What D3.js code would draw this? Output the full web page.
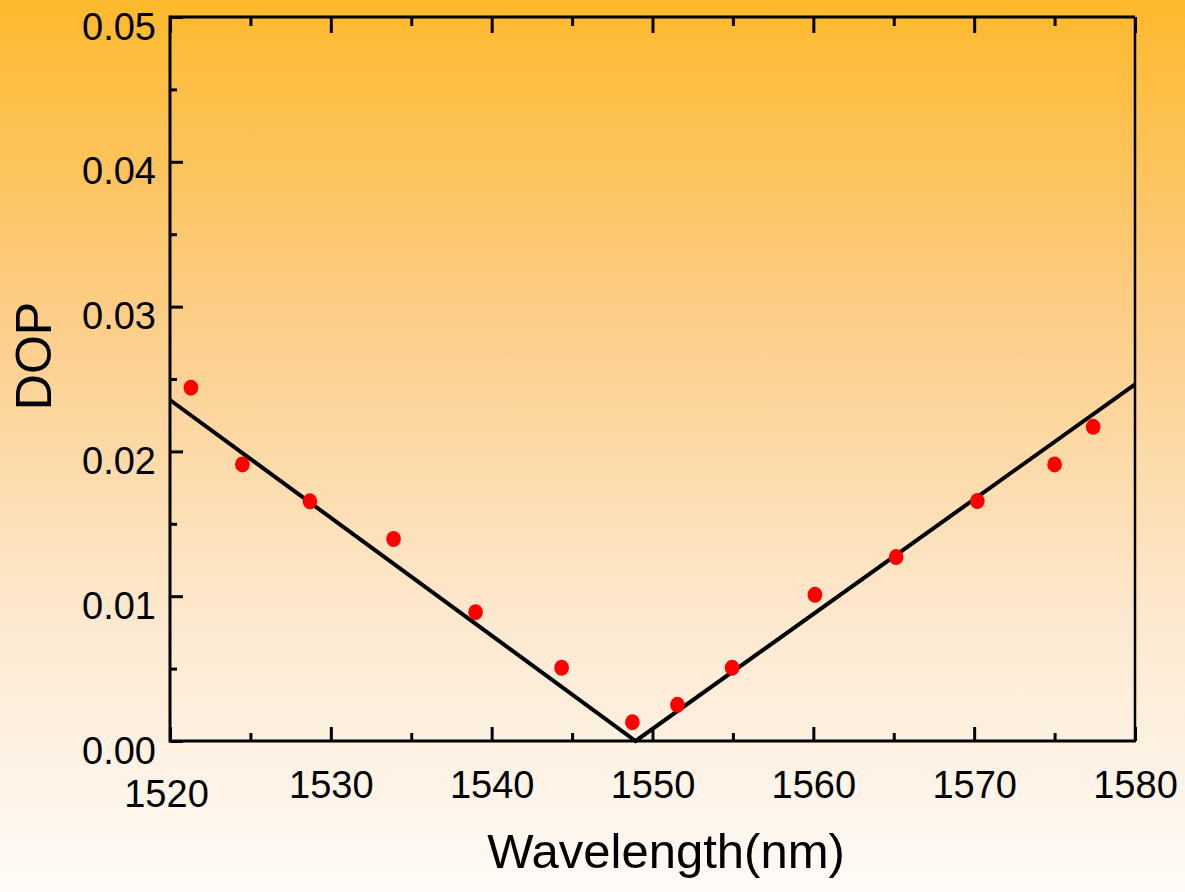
<!DOCTYPE html>
<html>
<head>
<meta charset="utf-8">
<script src="https://cdn.jsdelivr.net/npm/d3@7"></script>
<style>
  body { margin: 0; overflow: hidden; }
  text { font-family: "Liberation Sans", Arial, sans-serif; fill: #000; }
</style>
</head>
<body>
<div id="chart"></div>
<script>
// measured points
var wavelength = [1521.3, 1524.5, 1528.7, 1533.9, 1539.0, 1544.35, 1548.75, 1551.55, 1554.95, 1560.1, 1565.15, 1570.2, 1575.0, 1577.4];
var dop = [0.0244, 0.0191, 0.01655, 0.01395, 0.0089, 0.00506, 0.0013, 0.0025, 0.00506, 0.0101, 0.0127, 0.01657, 0.0191, 0.0217];

// fitted V line
var fitWavelength = [1520, 1548.95, 1580];
var fitDop = [0.02355, 0, 0.02463];

var xTicks = [1520, 1530, 1540, 1550, 1560, 1570, 1580];
var xMinor = [1525, 1535, 1545, 1555, 1565, 1575];
var yTicks = [0, 0.01, 0.02, 0.03, 0.04, 0.05];
var yMinor = [0.005, 0.015, 0.025, 0.035, 0.045];

var W = 1185, H = 892;
var margin = {top: 17, right: 50, bottom: 151, left: 170};
var width = W - margin.left - margin.right,
    height = H - margin.top - margin.bottom;

var svg = d3.select("#chart").append("svg")
  .attr("width", W)
  .attr("height", H);

// background gradient
var grad = svg.append("defs").append("linearGradient")
  .attr("id", "bg")
  .attr("x1", 0).attr("y1", 0).attr("x2", 0).attr("y2", 1);
grad.append("stop").attr("offset", "0%").attr("stop-color", "#fdb92c");
grad.append("stop").attr("offset", "35%").attr("stop-color", "#fccd86");
grad.append("stop").attr("offset", "70%").attr("stop-color", "#fde9d0");
grad.append("stop").attr("offset", "100%").attr("stop-color", "#fffbf7");
svg.append("rect").attr("width", W).attr("height", H).attr("fill", "url(#bg)");

var g = svg.append("g")
  .attr("transform", "translate(" + margin.left + "," + margin.top + ")");

var x = d3.scaleLinear().domain([1520, 1580]).range([0, width]);
var y = d3.scaleLinear().domain([0, 0.05]).range([height, 0]);

function styleAxis(sel, sw) {
  sel.select(".domain").remove();
  sel.selectAll(".tick line").attr("stroke", "#000").attr("stroke-width", sw);
}

// bottom axis, major + minor ticks pointing in
var xb = g.append("g")
  .attr("transform", "translate(0," + height + ")")
  .call(d3.axisBottom(x).tickValues(xTicks).tickSize(-14).tickFormat(d3.format("d")));
styleAxis(xb, 3);
xb.selectAll("text")
  .style("font-size", "38px")
  .attr("y", 57)
  .attr("dy", 0)
  .attr("dx", function(d) { return d == 1520 ? -4 : 0; })
  .attr("transform", function(d) { return d == 1520 ? "translate(0,9)" : null; });

var xbm = g.append("g")
  .attr("transform", "translate(0," + height + ")")
  .call(d3.axisBottom(x).tickValues(xMinor).tickSize(-8).tickFormat(""));
styleAxis(xbm, 3);

// top axis ticks
var xt = g.append("g")
  .call(d3.axisTop(x).tickValues(xTicks).tickSize(-16).tickFormat(""));
styleAxis(xt, 3);
var xtm = g.append("g")
  .call(d3.axisTop(x).tickValues(xMinor).tickSize(-9).tickFormat(""));
styleAxis(xtm, 3);

// left axis
var yl = g.append("g")
  .call(d3.axisLeft(y).tickValues(yTicks).tickSize(-13).tickFormat(d3.format(".2f")));
styleAxis(yl, 3);
yl.selectAll("text")
  .style("font-size", "38px")
  .attr("x", -14)
  .attr("dy", "0.45em")
  .attr("transform", "translate(0,5)");

var ylm = g.append("g")
  .call(d3.axisLeft(y).tickValues(yMinor).tickSize(-7).tickFormat(""));
styleAxis(ylm, 3);

// frame
g.append("line").attr("x1", 0).attr("x2", width).attr("y1", 0).attr("y2", 0)
  .attr("stroke", "#000").attr("stroke-width", 3);
g.append("line").attr("x1", width).attr("x2", width).attr("y1", 0).attr("y2", height)
  .attr("stroke", "#000").attr("stroke-width", 2.5);
g.append("line").attr("x1", 0).attr("x2", 0).attr("y1", -1.5).attr("y2", height + 1.5)
  .attr("stroke", "#000").attr("stroke-width", 3);
g.append("line").attr("x1", 0).attr("x2", width + 1).attr("y1", height).attr("y2", height)
  .attr("stroke", "#000").attr("stroke-width", 3);

// fitted line
var fit = fitWavelength.map(function(d, i) { return [d, fitDop[i]]; });
g.append("path")
  .datum(fit)
  .attr("fill", "none")
  .attr("stroke", "#000")
  .attr("stroke-width", 4)
  .attr("stroke-linejoin", "miter")
  .attr("d", d3.line().x(function(d) { return x(d[0]); }).y(function(d) { return y(d[1]); }));

// data points
var pts = wavelength.map(function(d, i) { return {w: d, v: dop[i]}; });
g.selectAll(".pt")
  .data(pts)
  .enter().append("ellipse")
  .attr("class", "pt")
  .attr("cx", function(d) { return x(d.w); })
  .attr("cy", function(d) { return y(d.v); })
  .attr("rx", 7.3)
  .attr("ry", 8)
  .attr("fill", "#ff0000");

// axis titles
svg.append("text")
  .attr("x", 666)
  .attr("y", 868)
  .attr("text-anchor", "middle")
  .style("font-size", "49px")
  .text("Wavelength(nm)");

svg.append("text")
  .attr("transform", "translate(51,356) rotate(-90)")
  .attr("text-anchor", "middle")
  .style("font-size", "50px")
  .text("DOP");
</script>
</body>
</html>
